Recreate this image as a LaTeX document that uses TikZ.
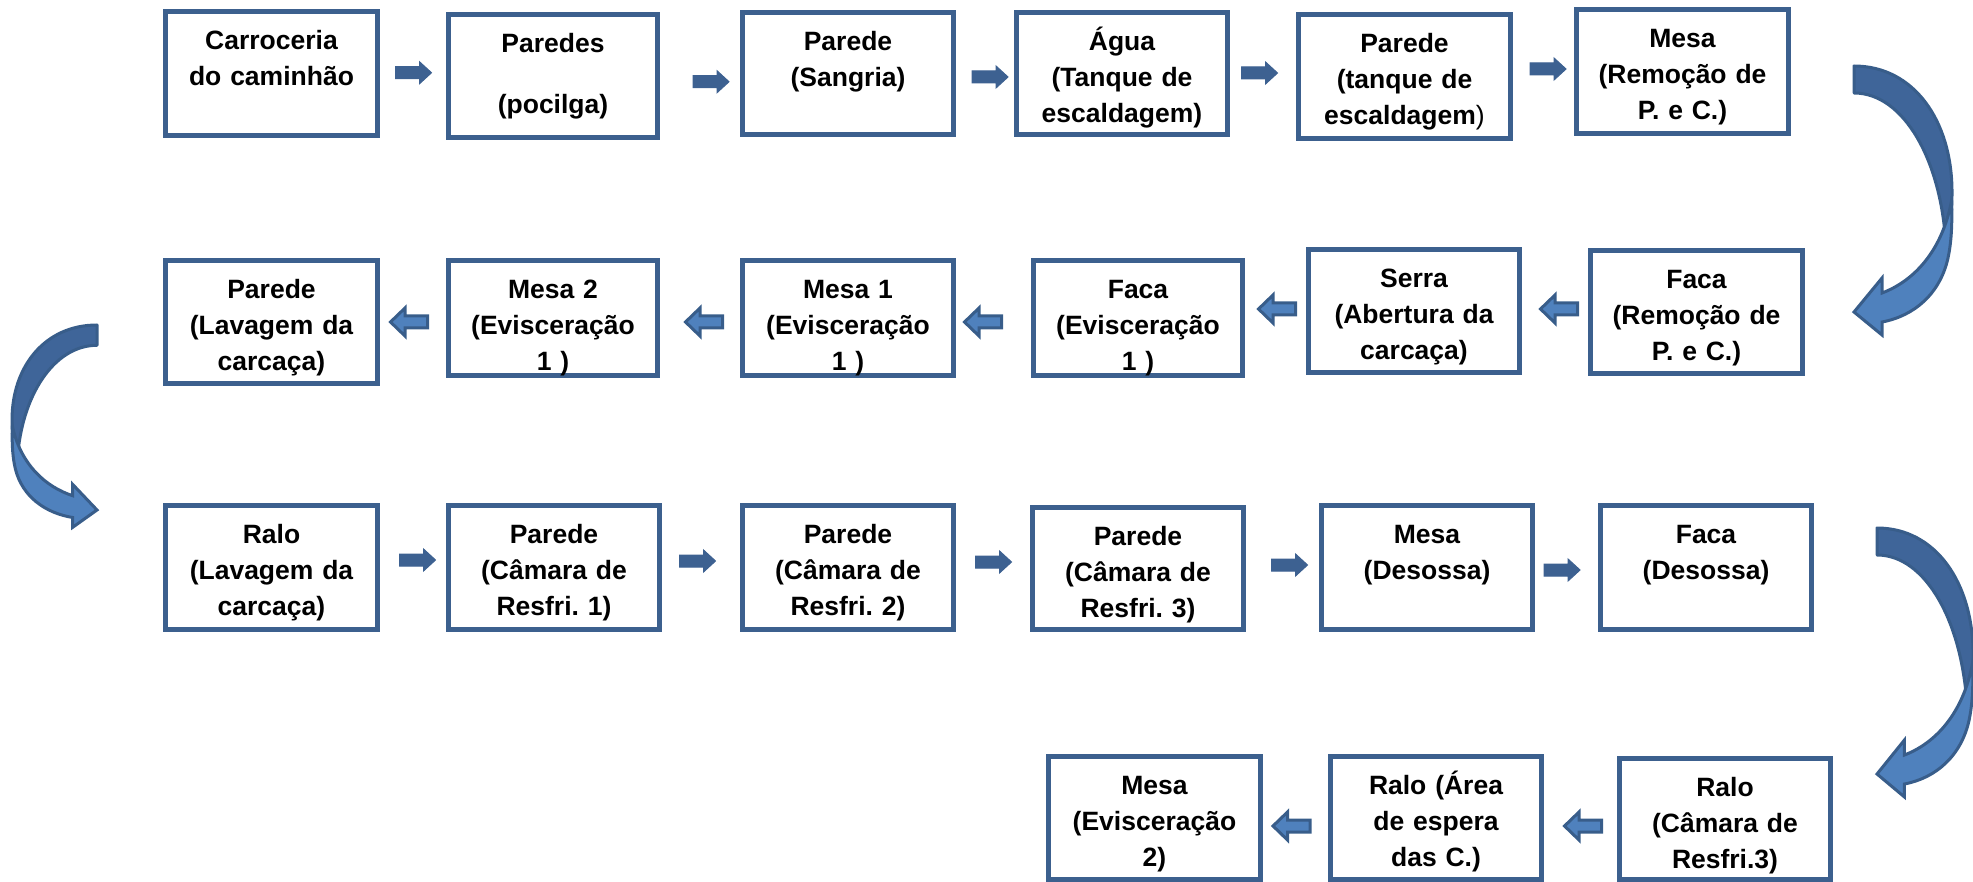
\documentclass[tikz,border=0pt]{standalone}
\usepackage{fontspec}
\setmainfont{Liberation Sans}
\usetikzlibrary{calc}
\frenchspacing
\definecolor{boxblue}{RGB}{60,96,142}
\definecolor{arrdark}{RGB}{61,97,145}
\definecolor{arrlight}{RGB}{79,129,189}
\definecolor{arroutline}{RGB}{56,93,138}
\definecolor{curvedk}{RGB}{63,101,153}
\begin{document}
\begin{tikzpicture}[x=1pt,y=-1pt,
  box/.style={draw=boxblue,line width=5pt,inner sep=0pt,outer sep=0pt},
  lbl/.style={anchor=north,inner sep=0pt,text width=214pt,align=center,
    font=\fontsize{26.5}{36}\selectfont\bfseries},
  cdark/.style={fill=curvedk,draw=arroutline,line width=3pt,line join=round},
  clight/.style={fill=arrlight,draw=arroutline,line width=3pt,line join=miter},
  solidarr/.pic={\filldraw[fill=arrdark,draw=arrdark,line width=1pt]
    (-18,-6) -- (6,-6) -- (6,-11) -- (18,0) -- (6,11) -- (6,6) -- (-18,6) -- cycle;},
  lightarr/.pic={\filldraw[fill=arrlight,draw=arroutline,line width=3pt]
    (18.5,-6) -- (-4,-6) -- (-4,-14) -- (-18.5,0) -- (-4,14) -- (-4,6) -- (18.5,6) -- cycle;}
]
\useasboundingbox (0,0) rectangle (1973,882);

% ---------- row 1 ----------
\node[box,minimum width=212pt,minimum height=124pt] (b1) at (271.5,73.5) {};
\node[box,minimum width=209pt,minimum height=123pt] (b2) at (553,76) {};
\node[box,minimum width=211pt,minimum height=122pt] (b3) at (848,73.5) {};
\node[box,minimum width=211pt,minimum height=122pt] (b4) at (1122,73.5) {};
\node[box,minimum width=212pt,minimum height=124pt] (b5) at (1404.5,76.5) {};
\node[box,minimum width=212pt,minimum height=124pt] (b6) at (1682.5,71.5) {};
\node[lbl] (b1t) at ([yshift=-11.5pt]b1.north) {\rule{0pt}{26pt}Carroceria\\do caminhão};
\node[lbl] (b2t) at ([yshift=-11.5pt]b2.north) {\rule{0pt}{26pt}Paredes\\[25pt](pocilga)};
\node[lbl] (b3t) at ([yshift=-11.5pt]b3.north) {\rule{0pt}{26pt}Parede\\(Sangria)};
\node[lbl] (b4t) at ([yshift=-11.5pt]b4.north) {\rule{0pt}{26pt}Água\\(Tanque de\\escaldagem)};
\node[lbl] (b5t) at ([yshift=-11.5pt]b5.north) {\rule{0pt}{26pt}Parede\\(tanque de\\escaldagem\textmd{)}};
\node[lbl] (b6t) at ([yshift=-11.5pt]b6.north) {\rule{0pt}{26pt}Mesa\\(Remoção de\\P. e C.)};

% ---------- row 2 ----------
\node[box,minimum width=212pt,minimum height=123pt] (c1) at (271.5,322) {};
\node[box,minimum width=209pt,minimum height=115pt] (c2) at (553,318) {};
\node[box,minimum width=211pt,minimum height=115pt] (c3) at (848,318) {};
\node[box,minimum width=209pt,minimum height=115pt] (c4) at (1138,318) {};
\node[box,minimum width=211pt,minimum height=123pt] (c5) at (1414,311) {};
\node[box,minimum width=212pt,minimum height=123pt] (c6) at (1696.5,312) {};
\node[lbl] (c1t) at ([yshift=-11.5pt]c1.north) {\rule{0pt}{26pt}Parede\\(Lavagem da\\carcaça)};
\node[lbl] (c2t) at ([yshift=-11.5pt]c2.north) {\rule{0pt}{26pt}Mesa 2\\(Evisceração\\1 )};
\node[lbl] (c3t) at ([yshift=-11.5pt]c3.north) {\rule{0pt}{26pt}Mesa 1\\(Evisceração\\1 )};
\node[lbl] (c4t) at ([yshift=-11.5pt]c4.north) {\rule{0pt}{26pt}Faca\\(Evisceração\\1 )};
\node[lbl] (c5t) at ([yshift=-11.5pt]c5.north) {\rule{0pt}{26pt}Serra\\(Abertura da\\carcaça)};
\node[lbl] (c6t) at ([yshift=-11.5pt]c6.north) {\rule{0pt}{26pt}Faca\\(Remoção de\\P. e C.)};

% ---------- row 3 ----------
\node[box,minimum width=212pt,minimum height=124pt] (d1) at (271.5,567.5) {};
\node[box,minimum width=211pt,minimum height=124pt] (d2) at (554,567.5) {};
\node[box,minimum width=211pt,minimum height=124pt] (d3) at (848,567.5) {};
\node[box,minimum width=211pt,minimum height=122pt] (d4) at (1138,568.5) {};
\node[box,minimum width=211pt,minimum height=124pt] (d5) at (1427,567.5) {};
\node[box,minimum width=211pt,minimum height=124pt] (d6) at (1706,567.5) {};
\node[lbl] (d1t) at ([yshift=-11.5pt]d1.north) {\rule{0pt}{26pt}Ralo\\(Lavagem da\\carcaça)};
\node[lbl] (d2t) at ([yshift=-11.5pt]d2.north) {\rule{0pt}{26pt}Parede\\(Câmara de\\Resfri. 1)};
\node[lbl] (d3t) at ([yshift=-11.5pt]d3.north) {\rule{0pt}{26pt}Parede\\(Câmara de\\Resfri. 2)};
\node[lbl] (d4t) at ([yshift=-11.5pt]d4.north) {\rule{0pt}{26pt}Parede\\(Câmara de\\Resfri. 3)};
\node[lbl] (d5t) at ([yshift=-11.5pt]d5.north) {\rule{0pt}{26pt}Mesa\\(Desossa)};
\node[lbl] (d6t) at ([yshift=-11.5pt]d6.north) {\rule{0pt}{26pt}Faca\\(Desossa)};

% ---------- row 4 ----------
\node[box,minimum width=212pt,minimum height=123pt] (e1) at (1154.5,818) {};
\node[box,minimum width=211pt,minimum height=123pt] (e2) at (1436,818) {};
\node[box,minimum width=211pt,minimum height=121pt] (e3) at (1725,819) {};
\node[lbl] (e1t) at ([yshift=-11.5pt]e1.north) {\rule{0pt}{26pt}Mesa\\(Evisceração\\2)};
\node[lbl] (e2t) at ([yshift=-11.5pt]e2.north) {\rule{0pt}{26pt}Ralo (Área\\de espera\\das C.)};
\node[lbl] (e3t) at ([yshift=-11.5pt]e3.north) {\rule{0pt}{26pt}Ralo\\(Câmara de\\Resfri.3)};

% ---------- straight block arrows ----------
\pic at ($(b1.east)!.5!(b2.west)+(0.5,-2)$) {solidarr};
\pic at ($(b2.east)!.5!(b3.west)+(11,7)$) {solidarr};
\pic at ($(b3.east)!.5!(b4.west)+(5,3.5)$) {solidarr};
\pic at ($(b4.east)!.5!(b5.west)+(-3.5,-2)$) {solidarr};
\pic at ($(b5.east)!.5!(b6.west)+(4.5,-5)$) {solidarr};

\pic at ($(c1.east)!.5!(c2.west)+(-4,2)$) {lightarr};
\pic at ($(c2.east)!.5!(c3.west)+(4,4)$) {lightarr};
\pic at ($(c3.east)!.5!(c4.west)+(-10.5,4)$) {lightarr};
\pic at ($(c4.east)!.5!(c5.west)+(1.5,-5.5)$) {lightarr};
\pic at ($(c5.east)!.5!(c6.west)+(4,-2.5)$) {lightarr};

\pic at ($(d1.east)!.5!(d2.west)+(4.5,-7.5)$) {solidarr};
\pic at ($(d2.east)!.5!(d3.west)+(-3.5,-6.5)$) {solidarr};
\pic at ($(d3.east)!.5!(d4.west)+(0.5,-6)$) {solidarr};
\pic at ($(d4.east)!.5!(d5.west)+(7,-3)$) {solidarr};
\pic at ($(d5.east)!.5!(d6.west)+(-4.5,2.5)$) {solidarr};

\pic at ($(e1.east)!.5!(e2.west)+(-4,8)$) {lightarr};
\pic at ($(e2.east)!.5!(e3.west)+(2.5,7.5)$) {lightarr};

% ---------- curved block arrows ----------
\coordinate (ca1) at (1854,66);
\coordinate (ca2) at (97,325);
\coordinate (ca3) at (1877,528);
\foreach \c/\sx/\sy in {ca1/1/1, ca2/-0.867/0.752, ca3/0.98/1} {
  \begin{scope}[shift={(\c)},xscale=\sx,yscale=\sy]
    \filldraw[cdark] (0,0) .. controls (60,0) and (98,55) .. (98,126)
      .. controls (98,148) and (96,166) .. (92,182)
      .. controls (88,95) and (50,27) .. (0,27) -- cycle;
    \filldraw[clight] (97.5,135) .. controls (98.5,160) and (97,178) .. (94,192)
      .. controls (86,228) and (60,250) .. (28,256) -- (28,269) -- (0,246)
      -- (28,212) -- (28,227) .. controls (60,215) and (88,185) .. (97.5,135) -- cycle;
  \end{scope}
}
\end{tikzpicture}
\end{document}
